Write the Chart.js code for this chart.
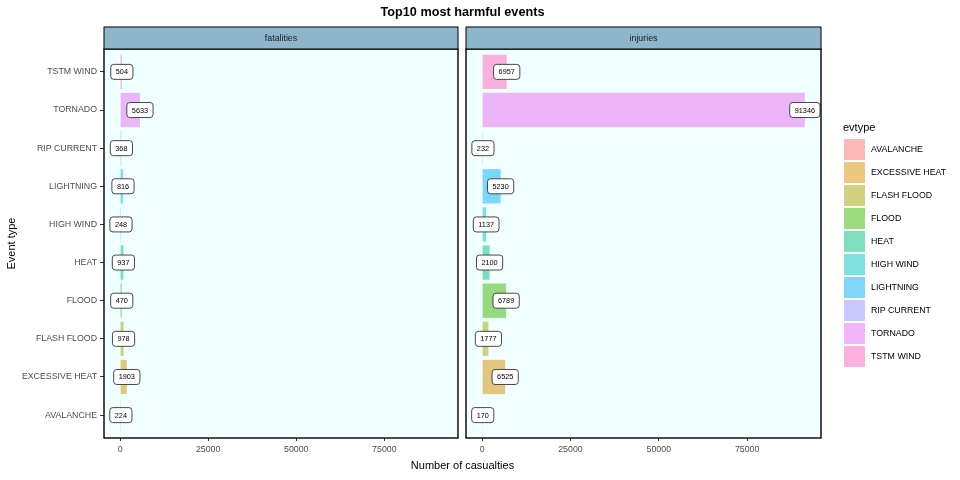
<!DOCTYPE html>
<html><head><meta charset="utf-8">
<script src="https://cdn.jsdelivr.net/npm/chart.js@4/dist/chart.umd.min.js"></script>
<style>
body{margin:0;background:#fff;font-family:"Liberation Sans",Arial,sans-serif}
#wrap{position:relative;width:960px;height:480px;overflow:hidden;background:#fff}
canvas{position:absolute;left:0;top:0}
.t{position:absolute;white-space:nowrap;color:#000;line-height:1}
</style></head><body>
<div id="wrap">
<canvas id="c1" width="960" height="480"></canvas>
<canvas id="c2" width="960" height="480"></canvas>
<div class="t" style="left:0;width:925px;text-align:center;top:5.5px;font-size:12.7px;font-weight:bold">Top10 most harmful events</div>
<div class="t" style="left:0;width:925px;text-align:center;top:459.5px;font-size:11px">Number of casualties</div>
<div id="legend"></div>
</div>
<script>
const eventTypes = ["AVALANCHE","EXCESSIVE HEAT","FLASH FLOOD","FLOOD","HEAT","HIGH WIND","LIGHTNING","RIP CURRENT","TORNADO","TSTM WIND"];
const fatalities = [224, 1903, 978, 470, 937, 248, 816, 368, 5633, 504];
const injuries   = [170, 6525, 1777, 6789, 2100, 1137, 5230, 232, 91346, 6957];
const xTicks = [0, 25000, 50000, 75000];
const panelNames = ["fatalities", "injuries"];
const hueColors = ["#F8766D","#D89000","#A3A500","#39B600","#00BF7D","#00BFC4","#00B0F6","#9590FF","#E76BF3","#FF62BC"];

function rgba(hex, a){
  const n = parseInt(hex.slice(1), 16);
  return `rgba(${(n>>16)&255},${(n>>8)&255},${n&255},${a})`;
}

// legend
const lg = document.getElementById('legend');
let html = '<div class="t" style="left:843px;top:122px;font-size:11px">evtype</div>';
eventTypes.forEach((e,i)=>{
  const y = 139 + i*23;
  html += `<div style="position:absolute;left:844px;top:${y}px;width:21px;height:21px;background:${rgba(hueColors[i],0.5)}"></div>`;
  html += `<div class="t" style="left:871px;top:${y}px;height:21px;line-height:21px;font-size:8.8px;color:#000">${e}</div>`;
});
lg.innerHTML = html;

const panelPlugin = {
  id: 'panel',
  beforeDraw(chart){
    const {ctx, chartArea:a} = chart;
    ctx.save();
    ctx.fillStyle = '#F0FFFF';
    ctx.fillRect(a.left, a.top, a.right-a.left, a.bottom-a.top);
    ctx.restore();
  },
  afterDatasetsDraw(chart, args, opts){
    const {ctx, chartArea:a} = chart;
    const ds = chart.data.datasets[0];
    const meta = chart.getDatasetMeta(0);
    ctx.save();
    ctx.font = '7.3px "Liberation Sans", Arial, sans-serif';
    ctx.textAlign = 'center';
    ctx.textBaseline = 'middle';
    meta.data.forEach((el, i) => {
      const txt = String(ds.data[i].x);
      const w = ctx.measureText(txt).width + 10;
      const h = 15;
      ctx.beginPath();
      ctx.roundRect(el.x - w/2, el.y - h/2, w, h, 3);
      ctx.fillStyle = '#fff';
      ctx.fill();
      ctx.lineWidth = 0.9;
      ctx.strokeStyle = '#333';
      ctx.stroke();
      ctx.fillStyle = '#000';
      ctx.fillText(txt, el.x, el.y + 0.5);
    });
    // panel border
    ctx.lineWidth = 1.4;
    ctx.strokeStyle = '#000';
    ctx.strokeRect(a.left, a.top, a.right-a.left, a.bottom-a.top);
    // strip
    const sTop = 27;
    ctx.fillStyle = '#8DB6CD';
    ctx.fillRect(a.left, sTop, a.right-a.left, a.top-sTop);
    ctx.lineWidth = 1;
    ctx.strokeRect(a.left, sTop, a.right-a.left, a.top-sTop);
    ctx.fillStyle = '#1A1A1A';
    ctx.font = '8.8px "Liberation Sans", Arial, sans-serif';
    ctx.fillText(opts.label, (a.left+a.right)/2, (sTop+a.top)/2 + 0.5);
    if (opts.yTitle) {
      ctx.translate(12, (a.top + a.bottom)/2);
      ctx.rotate(-Math.PI/2);
      ctx.fillStyle = '#000';
      ctx.font = '11px "Liberation Sans", Arial, sans-serif';
      ctx.fillText(opts.yTitle, 0, 0);
    }
    ctx.restore();
  }
};

function makeChart(id, values, label, showY){
  return new Chart(document.getElementById(id), {
    type: 'bar',
    data: {
      datasets: [{
        data: eventTypes.map((e,i)=>({x: values[i], y: i+1})),
        backgroundColor: hueColors.map(c=>rgba(c,0.5)),
        borderWidth: 0,
        barPercentage: 0.9,
        categoryPercentage: 1
      }]
    },
    options: {
      indexAxis: 'y',
      responsive: false,
      animation: false,
      devicePixelRatio: 1,
      layout: { padding: showY ? {left:0, right:960-458, top:49, bottom:0} : {left:466, right:960-821, top:49, bottom:0} },
      plugins: { legend:{display:false}, tooltip:{enabled:false}, title:{display:false}, panel:{label, yTitle: showY ? 'Event type' : ''} },
      scales: {
        x: {
          type: 'linear', min: -4567, max: 95913,
          afterBuildTicks: s => { s.ticks = xTicks.map(v=>({value:v})); },
          afterFit: s => { s.height = 42; },
          grid: { drawOnChartArea:false, tickLength:3, color:'#333', tickColor:'#333', lineWidth:1 },
          border: { display:false },
          ticks: { color:'#4D4D4D', font:{family:'Liberation Sans', size:8.8}, padding:3, maxRotation:0, autoSkip:false, callback: v => String(v) }
        },
        y: {
          type: 'linear', display: showY, min: 0.4, max: 10.6, offset: false,
          afterBuildTicks: s => { s.ticks = eventTypes.map((e,i)=>({value:i+1})); },
          afterFit: s => { s.width = showY ? 104 : 0; },
          grid: { drawOnChartArea:false, offset:false, tickLength:4, color:'#333', tickColor:'#333', lineWidth:1 },
          border: { display:false },
          ticks: { color:'#4D4D4D', font:{family:'Liberation Sans', size:8.8}, padding:3, autoSkip:false, callback: v => eventTypes[v-1] }
        }
      }
    },
    plugins: [panelPlugin]
  });
}

makeChart('c1', fatalities, panelNames[0], true);
makeChart('c2', injuries, panelNames[1], false);
</script>
</body></html>
